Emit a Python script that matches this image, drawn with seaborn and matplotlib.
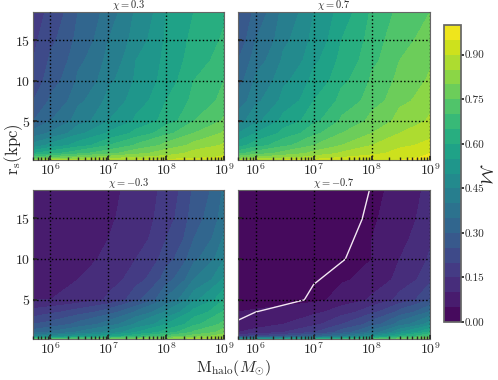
import numpy as np
import matplotlib
matplotlib.use("Agg")
import matplotlib.pyplot as plt
import seaborn as sns

### grid of halo masses (Msun) and scale radii (kpc)
masses = [5e5, 1e6, 3e6, 1e7, 3e7, 1e8, 3e8, 1e9]
rs_kpc = [0.2, 0.5, 1, 2, 3.5, 5, 7.5, 10, 12.5, 15, 18.5]

### M values, rows follow rs_kpc (bottom -> top)
M_chi_p03 = [
    [0.84, 0.86, 0.88, 0.89, 0.90, 0.91, 0.92, 0.93],
    [0.72, 0.75, 0.79, 0.83, 0.85, 0.87, 0.89, 0.91],
    [0.60, 0.64, 0.69, 0.74, 0.79, 0.83, 0.87, 0.89],
    [0.47, 0.52, 0.58, 0.65, 0.71, 0.77, 0.82, 0.86],
    [0.37, 0.41, 0.49, 0.56, 0.62, 0.69, 0.75, 0.81],
    [0.30, 0.35, 0.43, 0.50, 0.56, 0.63, 0.70, 0.76],
    [0.25, 0.31, 0.39, 0.47, 0.53, 0.60, 0.67, 0.72],
    [0.22, 0.28, 0.36, 0.44, 0.51, 0.58, 0.65, 0.70],
    [0.20, 0.26, 0.34, 0.42, 0.50, 0.57, 0.63, 0.68],
    [0.19, 0.24, 0.32, 0.40, 0.48, 0.56, 0.62, 0.66],
    [0.17, 0.22, 0.30, 0.38, 0.46, 0.55, 0.60, 0.64],
]

M_chi_p07 = [
    [0.86, 0.88, 0.90, 0.91, 0.92, 0.93, 0.95, 0.97],
    [0.78, 0.81, 0.84, 0.87, 0.90, 0.92, 0.94, 0.96],
    [0.69, 0.73, 0.77, 0.82, 0.86, 0.89, 0.92, 0.95],
    [0.58, 0.63, 0.69, 0.75, 0.80, 0.85, 0.89, 0.92],
    [0.50, 0.55, 0.62, 0.69, 0.75, 0.80, 0.85, 0.88],
    [0.43, 0.49, 0.57, 0.64, 0.71, 0.77, 0.82, 0.86],
    [0.37, 0.44, 0.52, 0.60, 0.67, 0.73, 0.79, 0.83],
    [0.33, 0.41, 0.49, 0.57, 0.64, 0.71, 0.77, 0.81],
    [0.30, 0.38, 0.46, 0.54, 0.62, 0.69, 0.75, 0.79],
    [0.27, 0.35, 0.44, 0.52, 0.60, 0.68, 0.74, 0.77],
    [0.24, 0.32, 0.42, 0.50, 0.58, 0.66, 0.72, 0.75],
]

M_chi_m03 = [
    [0.70, 0.72, 0.74, 0.77, 0.80, 0.83, 0.86, 0.88],
    [0.45, 0.48, 0.53, 0.58, 0.65, 0.72, 0.78, 0.84],
    [0.33, 0.36, 0.41, 0.47, 0.55, 0.63, 0.71, 0.78],
    [0.25, 0.27, 0.32, 0.38, 0.46, 0.55, 0.64, 0.72],
    [0.17, 0.19, 0.23, 0.28, 0.36, 0.46, 0.57, 0.66],
    [0.10, 0.10, 0.12, 0.16, 0.24, 0.36, 0.49, 0.60],
    [0.08, 0.08, 0.10, 0.13, 0.18, 0.28, 0.40, 0.51],
    [0.07, 0.07, 0.09, 0.11, 0.15, 0.23, 0.34, 0.45],
    [0.06, 0.07, 0.08, 0.10, 0.13, 0.20, 0.30, 0.41],
    [0.06, 0.07, 0.08, 0.095, 0.125, 0.18, 0.28, 0.38],
    [0.06, 0.07, 0.08, 0.09, 0.12, 0.17, 0.26, 0.36],
]

M_chi_m07 = [
    [0.50, 0.52, 0.56, 0.60, 0.65, 0.70, 0.76, 0.82],
    [0.20, 0.22, 0.26, 0.32, 0.40, 0.50, 0.62, 0.72],
    [0.10, 0.12, 0.15, 0.20, 0.28, 0.38, 0.50, 0.62],
    [0.07, 0.08, 0.10, 0.14, 0.20, 0.28, 0.38, 0.48],
    [0.05, 0.06, 0.07, 0.09, 0.13, 0.19, 0.27, 0.36],
    [0.02, 0.02, 0.03, 0.04, 0.07, 0.11, 0.17, 0.25],
    [0.01, 0.01, 0.02, 0.03, 0.045, 0.07, 0.12, 0.19],
    [0.01, 0.01, 0.015, 0.02, 0.035, 0.05, 0.10, 0.16],
    [0.01, 0.01, 0.01, 0.02, 0.03, 0.05, 0.09, 0.14],
    [0.01, 0.01, 0.01, 0.02, 0.03, 0.045, 0.08, 0.13],
    [0.01, 0.01, 0.01, 0.02, 0.03, 0.04, 0.07, 0.12],
]

panel_titles = [r"$\chi = 0.3$", r"$\chi = 0.7$", r"$\chi = -0.3$", r"$\chi = -0.7$"]

### white line in the chi = -0.7 panel
line_mass = [5e5, 1e6, 6.9e6, 1e7, 3.5e7, 6.8e7, 9.1e7]
line_rs = [2.5, 3.5, 5.0, 6.9, 10.0, 14.9, 18.5]

cbar_ticks = [0.0, 0.15, 0.30, 0.45, 0.60, 0.75, 0.90]

sns.set_theme(style="ticks")
plt.rcParams.update({
    "font.family": "serif",
    "font.serif": ["cmr10", "DejaVu Serif"],
    "mathtext.fontset": "cm",
    "axes.formatter.use_mathtext": True,
    "axes.unicode_minus": True,
})

cmap = sns.color_palette("viridis", as_cmap=True)
levels = np.linspace(0, 1, 21)

fig = plt.figure(figsize=(4.98, 3.8), dpi=100)
rects = [
    [0.0663, 0.579, 0.3835, 0.389],
    [0.4779, 0.579, 0.3855, 0.389],
    [0.0663, 0.108, 0.3835, 0.392],
    [0.4779, 0.108, 0.3855, 0.392],
]
grids = [M_chi_p03, M_chi_p07, M_chi_m03, M_chi_m07]

X, Y = np.meshgrid(masses, rs_kpc)
for i, (rect, Z, title) in enumerate(zip(rects, grids, panel_titles)):
    ax = fig.add_axes(rect)
    cs = ax.contourf(X, Y, np.array(Z), levels=levels, cmap=cmap)
    ax.set_xscale("log")
    ax.set_xlim(5e5, 1e9)
    ax.set_ylim(0.2, 18.5)
    ax.set_yticks([5, 10, 15])
    ax.set_xticks([1e6, 1e7, 1e8, 1e9])
    ax.set_axisbelow(False)
    ax.grid(True, which="major", color="black", linestyle=":", linewidth=1.0)
    ax.tick_params(which="both", direction="in", labelsize=10, pad=2)
    ax.tick_params(which="major", length=3)
    ax.tick_params(which="minor", length=2)
    if i % 2 == 1:
        ax.tick_params(labelleft=False)
    for sp in ax.spines.values():
        sp.set_color("#666666")
        sp.set_linewidth(0.8)
    ax.set_title(title, fontsize=7.5, pad=0.2)
    if i == 3:
        ax.plot(line_mass, line_rs, color="#f4e8f4", linewidth=1.0)

cax = fig.add_axes([0.8916, 0.1526, 0.034, 0.7816])
cb = fig.colorbar(cs, cax=cax, ticks=cbar_ticks, format="%.2f")
cb.outline.set_edgecolor("#666666")
cb.ax.tick_params(labelsize=8, length=2, pad=1)
cb.set_label(r"$\mathcal{M}$", fontsize=12, rotation=270, labelpad=6)

fig.text(0.469, 0.004, r"$\mathrm{M_{halo}}(M_{\odot})$", ha="center", va="bottom", fontsize=11.5)
fig.text(0.004, 0.608, r"$\mathrm{r_s(kpc)}$", va="center", ha="left", rotation=90, fontsize=12)

fig.savefig("out.png", dpi=100)
